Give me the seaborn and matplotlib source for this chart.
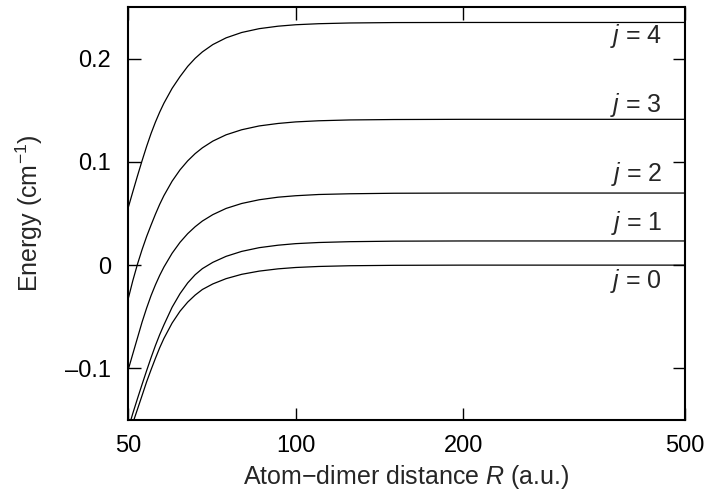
import numpy as np
import pandas as pd
import seaborn as sns
import matplotlib
matplotlib.use("Agg")
import matplotlib.pyplot as plt

# atom-dimer distance grid (a.u.)
R = [50, 51, 52, 53, 54, 55, 56, 57, 58, 60, 62, 64, 66, 68, 71, 75,
     80, 86, 93, 100, 110, 125, 150, 200, 300, 500]

# energies (cm^-1) of each rotational channel
E_j0 = [-0.1683, -0.1530, -0.1395, -0.1262, -0.1130, -0.1013, -0.0903, -0.0800,
        -0.0710, -0.0561, -0.0446, -0.0358, -0.0290, -0.0236, -0.0182, -0.0131,
        -0.0089, -0.0058, -0.0036, -0.0023, -0.0013, -0.0006, -0.0002, 0.0, 0.0, 0.0]
E_j1 = [-0.1593, -0.1436, -0.1292, -0.1154, -0.1022, -0.0896, -0.0779, -0.0673,
        -0.0579, -0.0408, -0.0276, -0.0172, -0.0093, -0.0034, 0.0027, 0.0085,
        0.0133, 0.0169, 0.0193, 0.0208, 0.0219, 0.0227, 0.0232, 0.0234, 0.0234, 0.0234]
E_j2 = [-0.1020, -0.0860, -0.0704, -0.0551, -0.0416, -0.0295, -0.0191, -0.0099,
        -0.0019, 0.0115, 0.0221, 0.0305, 0.0372, 0.0427, 0.0489, 0.0549,
        0.0597, 0.0633, 0.0658, 0.0672, 0.0684, 0.0691, 0.0696, 0.0698, 0.0698, 0.0698]
E_j3 = [-0.0334, -0.0151, 0.0010, 0.0151, 0.0277, 0.0388, 0.0493, 0.0589,
        0.0673, 0.0813, 0.0923, 0.1010, 0.1080, 0.1136, 0.1201, 0.1262,
        0.1311, 0.1348, 0.1372, 0.1387, 0.1398, 0.1406, 0.1410, 0.1412, 0.1412, 0.1412]
E_j4 = [0.0549, 0.0710, 0.0865, 0.1012, 0.1150, 0.1275, 0.1385, 0.1482,
        0.1568, 0.1712, 0.1826, 0.1925, 0.2003, 0.2065, 0.2136, 0.2201,
        0.2253, 0.2290, 0.2314, 0.2328, 0.2338, 0.2345, 0.2349, 0.2350, 0.2350, 0.2350]

channels = ["0", "1", "2", "3", "4"]
label_y = [-0.0156, 0.0409, 0.0886, 0.1548, 0.222]

x_ticks = [50, 100, 200, 500]
x_ticklabels = ["50", "100", "200", "500"]
y_ticks = [-0.1, 0, 0.1, 0.2]
y_ticklabels = ["\u20130.1", "0", "0.1", "0.2"]

df = pd.concat([
    pd.DataFrame({"R": R, "E": e, "j": j})
    for j, e in zip(channels, [E_j0, E_j1, E_j2, E_j3, E_j4])
])

sns.set_theme(style="ticks")
plt.rcParams["font.family"] = ["Liberation Sans", "DejaVu Sans"]
plt.rcParams["mathtext.fontset"] = "custom"
plt.rcParams["mathtext.rm"] = "Liberation Sans"
plt.rcParams["mathtext.it"] = "Liberation Sans:italic"
plt.rcParams["axes.unicode_minus"] = True

fig = plt.figure(figsize=(7.08, 4.95), dpi=100)
ax = fig.add_axes([0.1808, 0.1515, 0.7867, 0.8344])

sns.lineplot(data=df, x="R", y="E", units="j", estimator=None,
             color="black", linewidth=0.9, ax=ax, legend=False)

ax.set_xscale("log")
ax.set_xlim(50, 500)
ax.set_ylim(-0.15, 0.25)
ax.set_xticks(x_ticks)
ax.set_xticklabels(x_ticklabels)
ax.minorticks_off()
ax.set_yticks(y_ticks)
ax.set_yticklabels(y_ticklabels)

ax.tick_params(direction="in", length=9, width=1, top=True, right=True,
               labelsize=17, colors="black")
ax.tick_params(axis="x", pad=11)
ax.tick_params(axis="y", pad=12)
for s in ax.spines.values():
    s.set_linewidth(1.5)
    s.set_color("black")

ax.set_xlabel("Atom\u2212dimer distance $R$ (a.u.)", fontsize=18, labelpad=4)
ax.set_ylabel("Energy (cm$^{-1}$)", fontsize=18, labelpad=15)

for j, y in zip(channels, label_y):
    ax.text(455, y, "$j$ = " + j, fontsize=18, ha="right", va="center")

fig.savefig("out.png", dpi=100)
